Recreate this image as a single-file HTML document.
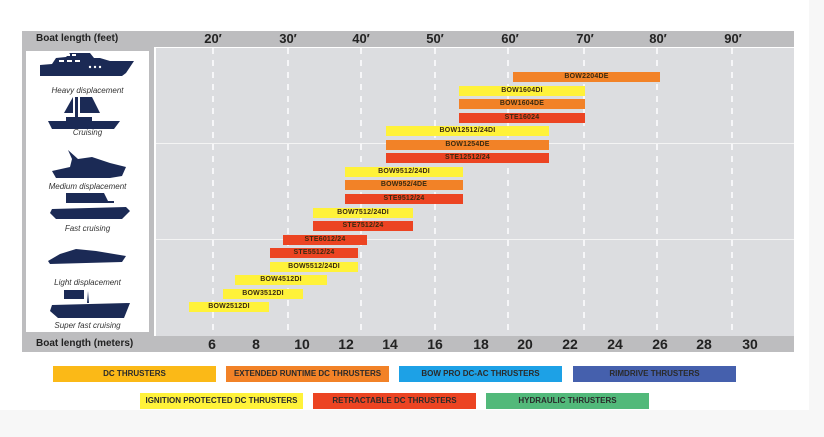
<!DOCTYPE html>
<html><head><meta charset="utf-8"><style>
*{margin:0;padding:0;box-sizing:border-box}
body{width:824px;height:437px;background:#f7f7f7;position:relative;overflow:hidden;font-family:"Liberation Sans",sans-serif}
.a{position:absolute}
.bar{position:absolute;height:10px;font-size:7px;font-weight:bold;color:#3a2a10;text-align:center;line-height:10px;letter-spacing:0.2px}
.y{background:#fff23a}.o{background:#f28227}.r{background:#ec4422}
.ft{position:absolute;top:31px;height:16px;line-height:16px;font-size:13px;font-weight:bold;color:#222;transform:translateX(-50%)}
.m{position:absolute;top:336px;height:16px;line-height:16px;font-size:14px;font-weight:bold;color:#222;transform:translateX(-50%)}
.lab{position:absolute;left:26px;width:123px;text-align:center;font-size:8px;font-style:italic;color:#333}
.lg{position:absolute;height:16px;width:163px;font-size:8px;font-weight:bold;color:#2a2a2a;text-align:center;line-height:16px}
</style></head><body>
<div class="a" style="left:0;top:0;width:809px;height:410px;background:#fff"></div>
<div class="a" style="left:22px;top:31px;width:772px;height:16px;background:#bdbdbf"></div>
<div class="a" style="left:36px;top:31px;line-height:16px;font-size:10px;font-weight:bold;color:#222">Boat length (feet)</div>
<div class="ft" style="left:213px">20′</div><div class="ft" style="left:288px">30′</div><div class="ft" style="left:361px">40′</div><div class="ft" style="left:435px">50′</div><div class="ft" style="left:510px">60′</div><div class="ft" style="left:585px">70′</div><div class="ft" style="left:658px">80′</div><div class="ft" style="left:733px">90′</div>
<div class="a" style="left:22px;top:47px;width:132px;height:289px;background:#bdbdbf"></div>
<div class="a" style="left:26px;top:51px;width:123px;height:281px;background:#fff"></div>
<div class="a" style="left:156px;top:48px;width:638px;height:288px;background:#dcdde0"></div>
<div class="a" style="left:156px;top:143px;width:638px;height:1px;background:#f4f4f4"></div>
<div class="a" style="left:156px;top:239px;width:638px;height:1px;background:#f4f4f4"></div>
<svg class="a" style="left:156px;top:48px" width="638" height="288">
<g stroke="#fff" stroke-width="1.5" stroke-dasharray="6 6">
<line x1="57" y1="0" x2="57" y2="288"/><line x1="132" y1="0" x2="132" y2="288"/><line x1="205" y1="0" x2="205" y2="288"/><line x1="279" y1="0" x2="279" y2="288"/><line x1="352" y1="0" x2="352" y2="288"/><line x1="428" y1="0" x2="428" y2="288"/><line x1="501" y1="0" x2="501" y2="288"/><line x1="576" y1="0" x2="576" y2="288"/>
</g></svg>
<div class="a" style="left:22px;top:336px;width:772px;height:16px;background:#bdbdbf"></div>
<div class="a" style="left:36px;top:336px;line-height:16px;font-size:10px;font-weight:bold;color:#222">Boat length (meters)</div>
<div class="m" style="left:212px">6</div><div class="m" style="left:256px">8</div><div class="m" style="left:302px">10</div><div class="m" style="left:346px">12</div><div class="m" style="left:390px">14</div><div class="m" style="left:435px">16</div><div class="m" style="left:481px">18</div><div class="m" style="left:525px">20</div><div class="m" style="left:570px">22</div><div class="m" style="left:615px">24</div><div class="m" style="left:660px">26</div><div class="m" style="left:704px">28</div><div class="m" style="left:750px">30</div>

<svg class="a" style="left:26px;top:51px" width="123" height="281">
<g fill="#1b2a55">
<path d="M14 14 L26 13 L30 7 L40 6 L44 2 L64 2 L68 7 L74 7 L84 10 L108 10 L100 22 L96 25 L14 25 Z"/>
<g fill="#fff"><rect x="40" y="3" width="4" height="2"/><rect x="46" y="3" width="4" height="2"/><rect x="33" y="9" width="5" height="2"/><rect x="41" y="9" width="5" height="2"/><rect x="49" y="9" width="5" height="2"/><circle cx="64" cy="16" r="1.2"/><circle cx="69" cy="16" r="1.2"/><circle cx="74" cy="16" r="1.2"/></g>
<path d="M49 46 L52 46 L52 70 L49 70Z M54 46 L66 46 L74 62 L54 62Z M47 46 L38 62 L47 62Z"/>
<path d="M22 70 L40 70 L40 66 L66 66 L66 70 L94 70 L88 78 L26 78Z"/>
<path d="M42 99 L52 108 L66 106 L84 112 L100 116 L96 125 L84 127 L30 127 L26 120 L44 116 L46 108Z"/>
<path d="M40 142 L78 142 L82 150 L88 150 L88 152 L40 152Z M26 158 L100 156 L104 160 L96 168 L30 168 L24 162Z"/>
<path d="M22 210 L34 203 L50 198 L70 200 L100 205 L96 211 L24 213Z"/>
<path d="M38 239 L58 239 L58 248 L38 248Z M62 240 L63 252 L61 252Z M26 254 L104 252 L98 267 L32 267 L24 260Z"/>
</g>
</svg>
<div class="lab" style="top:86px">Heavy displacement</div>
<div class="lab" style="top:128px">Cruising</div>
<div class="lab" style="top:182px">Medium displacement</div>
<div class="lab" style="top:224px">Fast cruising</div>
<div class="lab" style="top:278px">Light displacement</div>
<div class="lab" style="top:321px">Super fast cruising</div>

<div class="bar o" style="left:513px;top:72px;width:147px">BOW2204DE</div>
<div class="bar y" style="left:459px;top:86px;width:126px">BOW1604DI</div>
<div class="bar o" style="left:459px;top:99px;width:126px">BOW1604DE</div>
<div class="bar r" style="left:459px;top:113px;width:126px">STE16024</div>
<div class="bar y" style="left:386px;top:126px;width:163px">BOW12512/24DI</div>
<div class="bar o" style="left:386px;top:140px;width:163px">BOW1254DE</div>
<div class="bar r" style="left:386px;top:153px;width:163px">STE12512/24</div>
<div class="bar y" style="left:345px;top:167px;width:118px">BOW9512/24DI</div>
<div class="bar o" style="left:345px;top:180px;width:118px">BOW952/4DE</div>
<div class="bar r" style="left:345px;top:194px;width:118px">STE9512/24</div>
<div class="bar y" style="left:313px;top:208px;width:100px">BOW7512/24DI</div>
<div class="bar r" style="left:313px;top:221px;width:100px">STE7512/24</div>
<div class="bar r" style="left:283px;top:235px;width:84px">STE6012/24</div>
<div class="bar r" style="left:270px;top:248px;width:88px">STE5512/24</div>
<div class="bar y" style="left:270px;top:262px;width:88px">BOW5512/24DI</div>
<div class="bar y" style="left:235px;top:275px;width:92px">BOW4512DI</div>
<div class="bar y" style="left:223px;top:289px;width:80px">BOW3512DI</div>
<div class="bar y" style="left:189px;top:302px;width:80px">BOW2512DI</div>

<div class="lg" style="left:53px;top:366px;background:#fbb917">DC THRUSTERS</div>
<div class="lg" style="left:226px;top:366px;background:#f28227">EXTENDED RUNTIME DC THRUSTERS</div>
<div class="lg" style="left:399px;top:366px;background:#1da1e6">BOW PRO DC-AC THRUSTERS</div>
<div class="lg" style="left:573px;top:366px;background:#4560ad">RIMDRIVE THRUSTERS</div>
<div class="lg" style="left:140px;top:393px;background:#fff23a">IGNITION PROTECTED DC THRUSTERS</div>
<div class="lg" style="left:313px;top:393px;background:#ec4422">RETRACTABLE DC THRUSTERS</div>
<div class="lg" style="left:486px;top:393px;background:#52b97a">HYDRAULIC THRUSTERS</div>
</body></html>
